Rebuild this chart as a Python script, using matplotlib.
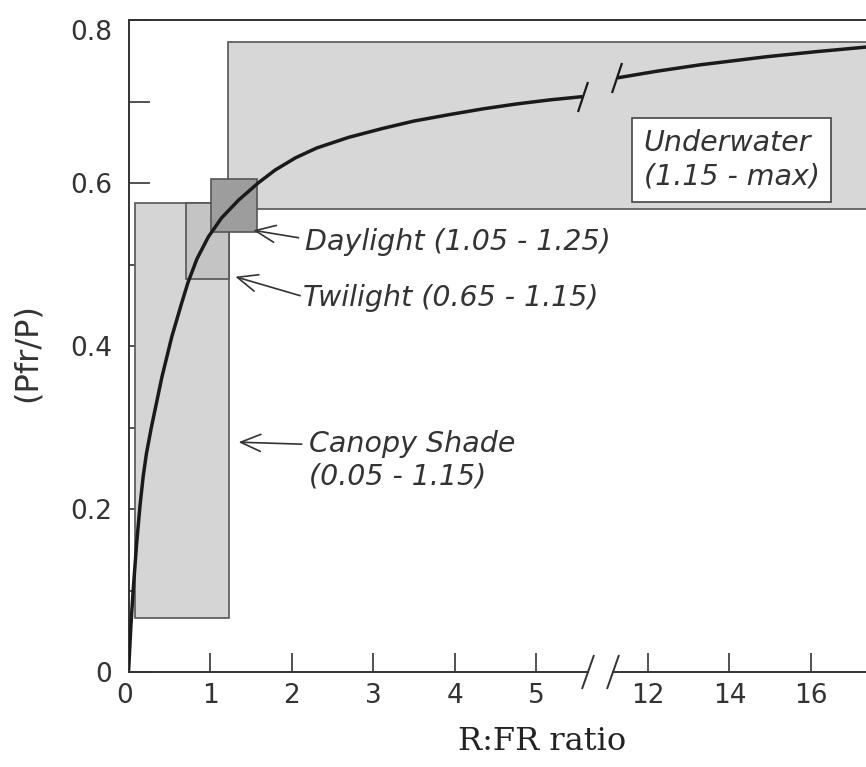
import matplotlib
matplotlib.use('Agg')
import matplotlib.pyplot as plt
import numpy as np
from matplotlib.patches import Rectangle
from matplotlib.markers import MarkerStyle
from matplotlib.transforms import Affine2D

# Кривая фоторавновесия Pfr/P от R:FR
curve_x_low = [0.0, 0.03, 0.06, 0.10, 0.14, 0.18, 0.22, 0.28, 0.41, 0.53, 0.65, 0.73,
               0.84, 0.98, 1.14, 1.35, 1.59, 1.80, 2.05, 2.31, 2.70, 3.12, 3.50, 3.94,
               4.35, 4.76, 5.17, 5.57]
curve_y_low = [0.0, 0.058, 0.104, 0.158, 0.203, 0.240, 0.268, 0.300, 0.362, 0.411, 0.452,
               0.478, 0.507, 0.534, 0.557, 0.579, 0.600, 0.616, 0.631, 0.643, 0.656,
               0.667, 0.676, 0.684, 0.691, 0.697, 0.702, 0.706]
curve_x_high = [11.25, 12.2, 13.28, 14.1, 14.92, 16.1, 17.4]
curve_y_high = [0.729, 0.737, 0.745, 0.750, 0.755, 0.761, 0.767]

# Области светового режима: (x0, x1, y0, y1)
region_names = ['Canopy', 'Twilight', 'Underwater', 'Daylight']
region_x0 = [0.08, 0.71, 1.22, 1.01]
region_x1 = [1.23, 1.23, 18.0, 1.58]
region_y0 = [0.066, 0.482, 0.568, 0.540]
region_y1 = [0.575, 0.575, 0.773, 0.605]
region_colors = ['#d5d5d5', '#c4c4c4', '#d7d7d7', '#9d9d9d']

x_ticks = [1, 2, 3, 4, 5, 12, 14, 16]
x_ticklabels = ['1', '2', '3', '4', '5', '12', '14', '16']
y_ticks = [0, 0.2, 0.4, 0.6, 0.8]
y_ticklabels = ['0', '0.2', '0.4', '0.6', '0.8']

# Разрыв шкалы X
BRK_LO, BRK_HI, GAP = 5.64, 11.15, 0.306


def fwd(x):
    x = np.asarray(x, dtype=float)
    mid = BRK_LO + (x - BRK_LO) * GAP / (BRK_HI - BRK_LO)
    hi = BRK_LO + GAP + (x - BRK_HI) * 0.5
    return np.where(x <= BRK_LO, x, np.where(x >= BRK_HI, hi, mid))


def inv(u):
    u = np.asarray(u, dtype=float)
    mid = BRK_LO + (u - BRK_LO) * (BRK_HI - BRK_LO) / GAP
    hi = BRK_HI + (u - BRK_LO - GAP) * 2.0
    return np.where(u <= BRK_LO, u, np.where(u >= BRK_LO + GAP, hi, mid))


plt.rcParams['font.family'] = 'DejaVu Sans'
fig = plt.figure(figsize=(8.66, 7.67), dpi=100)
ax = fig.add_axes([128.5 / 866, 95 / 767, 1 - 128.5 / 866, 652 / 767])
ax.set_xscale('function', functions=(fwd, inv))
ax.set_xlim(0, 17.35)
ax.set_ylim(0, 0.8)

for i in range(len(region_names)):
    ax.add_patch(Rectangle((region_x0[i], region_y0[i]), region_x1[i] - region_x0[i],
                           region_y1[i] - region_y0[i], facecolor=region_colors[i],
                           edgecolor='#555555', linewidth=1.2, zorder=2))

ax.plot(curve_x_low, curve_y_low, color='#1a1a1a', linewidth=2.5, zorder=5,
        solid_capstyle='butt')
ax.plot(curve_x_high, curve_y_high, color='#1a1a1a', linewidth=2.5, zorder=5,
        solid_capstyle='butt')

slash = MarkerStyle('|', transform=Affine2D().rotate_deg(-18))
ax.plot([curve_x_low[-1], curve_x_high[0]], [curve_y_low[-1], curve_y_high[0]],
        linestyle='none', marker=slash, markersize=22, markeredgewidth=1.6,
        color='#1a1a1a', zorder=6)

# Ось X с разрывом
ax.spines['bottom'].set_visible(False)
ax.spines['right'].set_visible(False)
for s in ['left', 'top']:
    ax.spines[s].set_linewidth(1.4)
    ax.spines[s].set_color('#333333')
ax.plot([0, BRK_LO], [0, 0], color='#333333', linewidth=1.4, clip_on=False, zorder=7)
ax.plot([BRK_HI, 17.35], [0, 0], color='#333333', linewidth=1.4, clip_on=False, zorder=7)
ax.plot([BRK_LO, BRK_HI], [0, 0], linestyle='none', marker=slash, markersize=26,
        markeredgewidth=1.4, color='#333333', clip_on=False, zorder=7)

ax.set_xticks(x_ticks)
ax.set_xticklabels(x_ticklabels)
ax.set_xticks([], minor=True)
ax.text(-0.05, -0.017, '0', ha='center', va='top', fontsize=19, color='#333333',
        transform=ax.get_xaxis_transform())
ax.set_yticks(y_ticks)
ax.set_yticklabels(y_ticklabels)
ax.set_yticks([0.1, 0.3, 0.5, 0.7], minor=True)
ax.tick_params(axis='x', direction='in', length=14, width=1.2, pad=8, labelsize=19,
               colors='#333333')
ax.tick_params(axis='y', which='both', direction='in', length=15, width=1.2, pad=12,
               labelsize=19, colors='#333333')
ax.get_yticklabels()[-1].set_va('top')

ax.set_xlabel('R:FR ratio', family='DejaVu Serif', fontsize=23, color='#222222')
ax.xaxis.set_label_coords(0.561, -0.083)
ax.set_ylabel('(Pfr/P)', fontsize=23, color='#333333')
ax.yaxis.set_label_coords(-0.116, 0.49)

txt = dict(fontsize=20.5, style='italic', color='#333333', ha='left', va='center')
arr = dict(arrowstyle='->,head_length=0.7,head_width=0.3', color='#333333', lw=1.2,
           shrinkA=3, shrinkB=0)
ax.annotate('Daylight (1.05 - 1.25)', xy=(1.53, 0.542), xytext=(2.17, 0.528),
            arrowprops=dict(arr, relpos=(0, 0.6)), **txt)
ax.annotate('Twilight (0.65 - 1.15)', xy=(1.31, 0.485), xytext=(2.14, 0.459),
            arrowprops=dict(arr, relpos=(0, 0.55), shrinkA=0), **txt)
ax.annotate('Canopy Shade\n(0.05 - 1.15)', xy=(1.35, 0.282), xytext=(2.21, 0.26),
            arrowprops=dict(arr, relpos=(0, 0.76)), linespacing=1.2, **txt)
ax.text(11.9, 0.628, 'Underwater\n(1.15 - max)', linespacing=1.25, zorder=8,
        bbox=dict(boxstyle='square,pad=0.4', facecolor='white', edgecolor='#444444',
                  linewidth=1.2), **txt)

fig.savefig('out.png', dpi=100)
